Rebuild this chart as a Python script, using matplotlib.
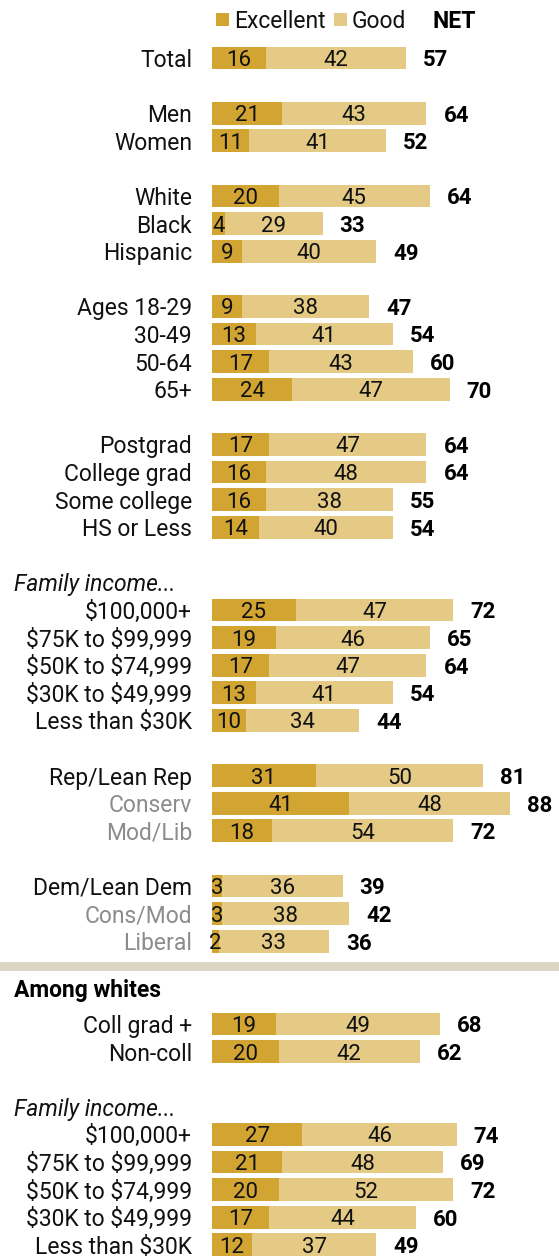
import matplotlib
matplotlib.use('Agg')
import matplotlib.pyplot as plt
from matplotlib.patches import Rectangle

plt.rcParams['font.family'] = ['Roboto', 'DejaVu Sans']
plt.rcParams['text.parse_math'] = False

# ---------------- data ----------------
labels = ['Total',
          'Men', 'Women',
          'White', 'Black', 'Hispanic',
          'Ages 18-29', '30-49', '50-64', '65+',
          'Postgrad', 'College grad', 'Some college', 'HS or Less',
          '$100,000+', '$75K to $99,999', '$50K to $74,999', '$30K to $49,999', 'Less than $30K',
          'Rep/Lean Rep', 'Conserv', 'Mod/Lib',
          'Dem/Lean Dem', 'Cons/Mod', 'Liberal',
          'Coll grad +', 'Non-coll',
          '$100,000+', '$75K to $99,999', '$50K to $74,999', '$30K to $49,999', 'Less than $30K']
excellent = [16, 21, 11, 20, 4, 9, 9, 13, 17, 24, 17, 16, 16, 14,
             25, 19, 17, 13, 10, 31, 41, 18, 3, 3, 2, 19, 20, 27, 21, 20, 17, 12]
good = [42, 43, 41, 45, 29, 40, 38, 41, 43, 47, 47, 48, 38, 40,
        47, 46, 47, 41, 34, 50, 48, 54, 36, 38, 33, 49, 42, 46, 48, 52, 44, 37]
net = [57, 64, 52, 64, 33, 49, 47, 54, 60, 70, 64, 64, 55, 54,
       72, 65, 64, 54, 44, 81, 88, 72, 39, 42, 36, 68, 62, 74, 69, 72, 60, 49]
gray_labels = ['Conserv', 'Mod/Lib', 'Cons/Mod', 'Liberal']

# group structure: (heading or None, number of rows)
groups = [(None, 1), (None, 2), (None, 3), (None, 4), (None, 4),
          ('Family income...', 5), (None, 3), (None, 3)]
white_groups = [(None, 2), ('Family income...', 5)]

C_EXC = '#d2a532'
C_GOOD = '#e4ca85'
C_GRAY = '#8c8c8c'
C_SEP = '#dcd7c5'
C_TXT = '#111111'

# ---------------- layout ----------------
W, H = 559, 1257
PX_UNIT = 3.35        # pixels per percentage point
X0 = 212              # bar origin, px
SLOT = 27.6           # row pitch, px
Y0 = 58               # first row centre, px

fig = plt.figure(figsize=(W / 100, H / 100), dpi=100)
ax = fig.add_axes([0, 0, 1, 1])
ax.set_xlim(-X0 / PX_UNIT, (W - X0) / PX_UNIT)
ax.set_ylim((H - Y0) / SLOT, -Y0 / SLOT)
ax.axis('off')

FS = 16.5
FS_NUM = 16
lab_x = -20 / PX_UNIT
net_off = 17 / PX_UNIT

# compute slot positions
slots = []
heads = []
s = 0
for gi, (head, n) in enumerate(groups):
    if gi > 0:
        s += 1
    if head:
        heads.append((s, head))
        s += 1
    for _ in range(n):
        slots.append(s)
        s += 1
s -= 1
sep_slot = s + 0.9
among_slot = s + 1.7
s = s + 3
for gi, (head, n) in enumerate(white_groups):
    if gi > 0:
        s += 1
    if head:
        heads.append((s, head))
        s += 1
    for _ in range(n):
        slots.append(s)
        s += 1

bh = 22.7 / SLOT
for i, lab in enumerate(labels):
    y = slots[i]
    e, g = excellent[i], good[i]
    ax.barh(y, e, height=bh, left=0, color=C_EXC, edgecolor='none')
    ax.barh(y, g, height=bh, left=e, color=C_GOOD, edgecolor='none')
    ax.text(e / 2, y, str(e), ha='center', va='center_baseline', fontsize=FS_NUM, color=C_TXT)
    ax.text(e + g / 2, y, str(g), ha='center', va='center_baseline', fontsize=FS_NUM, color=C_TXT)
    ax.text(e + g + net_off, y, str(net[i]), ha='left', va='center_baseline', fontsize=FS_NUM,
            fontweight='bold', color='#000000')
    ax.text(lab_x, y, lab, ha='right', va='center_baseline', fontsize=FS,
            color=C_GRAY if lab in gray_labels else C_TXT)

for sy, h in heads:
    ax.text(-X0 / PX_UNIT + 14 / PX_UNIT, sy, h, ha='left', va='center_baseline',
            fontsize=FS, style='italic', color=C_TXT)

# separator band
ax.axhspan(sep_slot - 4.5 / SLOT, sep_slot + 4.5 / SLOT, color=C_SEP, lw=0)
ax.text(-X0 / PX_UNIT + 14 / PX_UNIT, among_slot, 'Among whites', ha='left',
        va='center_baseline', fontsize=FS, fontweight='bold', color='#000000')

# legend
leg_y = (19 - Y0) / SLOT
sq = 13
for px, col, txt in [(216, C_EXC, 'Excellent'), (334, C_GOOD, 'Good')]:
    fig.patches.append(Rectangle((px / W, 1 - 25.5 / H), sq / W, sq / H,
                                 transform=fig.transFigure, color=col, lw=0))
    ax.text((px + 18 - X0) / PX_UNIT, leg_y, txt, ha='left', va='center_baseline',
            fontsize=FS, color=C_TXT)
ax.text((433 - X0) / PX_UNIT, leg_y, 'NET', ha='left', va='center_baseline',
        fontsize=FS, fontweight='bold', color='#000000')

fig.savefig('out.png', dpi=100, facecolor='white')
